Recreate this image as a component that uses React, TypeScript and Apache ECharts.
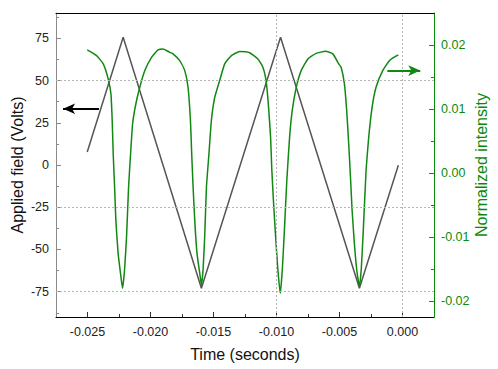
import React, { useEffect, useRef } from "react";
import * as echarts from "echarts";

// Applied field (gray triangle wave, left axis)
const fieldTime = [-0.02502, -0.02217, -0.01596, -0.00968, -0.00342, -0.00033];
const fieldVolts = [7.7, 75.6, -73, 75.6, -73, -0.2];

// Normalized intensity (green, right axis)
const greenTime = [
  -0.02502, -0.02428, -0.02375, -0.02336, -0.02314, -0.02304, -0.02296, -0.02285, -0.02275, -0.02257,
  -0.02238, -0.02222, -0.02206, -0.0219, -0.02174, -0.02158, -0.02142, -0.02116, -0.02085, -0.02045,
  -0.01992, -0.0194, -0.019, -0.01847, -0.01821, -0.01768, -0.01728, -0.01702, -0.01683, -0.01673,
  -0.01662, -0.01649, -0.01631, -0.01609, -0.01596, -0.01583, -0.0157, -0.01556, -0.01536, -0.01517,
  -0.0149, -0.01451, -0.01411, -0.01358, -0.01292, -0.01213, -0.01148, -0.01108, -0.01081, -0.01063,
  -0.01047, -0.01037, -0.01023, -0.01007, -0.00989, -0.0097, -0.00954, -0.00936, -0.00918, -0.00896,
  -0.00875, -0.00843, -0.00804, -0.00751, -0.00685, -0.00611, -0.00553, -0.00506, -0.00487, -0.00461,
  -0.00443, -0.00427, -0.00413, -0.004, -0.00382, -0.00363, -0.00342, -0.00326, -0.0031, -0.00289,
  -0.00268, -0.00241, -0.0021, -0.00157, -0.00099, -0.00033,
];
const greenIntensity = [
  0.01923, 0.01834, 0.01705, 0.01471, 0.01237, 0.00821, 0.00302, -0.00218, -0.00737, -0.01256,
  -0.01568, -0.01802, -0.01516, -0.00997, -0.00218, 0.00302, 0.0077, 0.01082, 0.0134, 0.016,
  0.01808, 0.01923, 0.01939, 0.01886, 0.01861, 0.01756, 0.016, 0.0134, 0.00821, 0.00302,
  -0.00218, -0.00737, -0.01256, -0.01568, -0.0175, -0.01516, -0.00997, -0.00218, 0.00302, 0.00821,
  0.01184, 0.01445, 0.01705, 0.01834, 0.01897, 0.0188, 0.01783, 0.01652, 0.01418, 0.01029,
  0.00561, 0.00042, -0.00477, -0.00997, -0.01516, -0.01879, -0.01516, -0.00842, -0.00114, 0.00561,
  0.00977, 0.0134, 0.016, 0.01783, 0.0187, 0.01901, 0.01861, 0.01705, 0.01652, 0.01393,
  0.00977, 0.00458, -0.00062, -0.00581, -0.011, -0.01516, -0.01777, -0.01465, -0.00842, 0.00042,
  0.00561, 0.01029, 0.0134, 0.016, 0.01767, 0.01845,
];

// Axis ticks / labels
const xLabelValues = [-0.025, -0.02, -0.015, -0.01, -0.005, 0];
const xMinorTicks = [-0.0225, -0.0175, -0.0125, -0.0075, -0.0025];
const leftLabelValues = [-75, -50, -25, 0, 25, 50, 75];
const leftMinorTicks = [-87.5, -62.5, -37.5, -12.5, 12.5, 37.5, 62.5, 87.5];
const rightLabelValues = [-0.02, -0.01, 0, 0.01, 0.02];
const rightMinorTicks = [-0.015, -0.005, 0.005, 0.015];

// Reference grid lines
const hGridVolts = [50, -25, -75];
const vGridTime = [-0.005, 0];

// Arrow annotations (data coordinates)
const leftArrow = { from: [-0.02409, 33.3], to: [-0.02694, 33.3] };
const rightArrow = { from: [-0.0012, 0.016], to: [0.00141, 0.016] };

const FONT = "'Liberation Sans', Arial, sans-serif";
const GREEN = "#118811";
const AXIS_GREEN = "#0a8a0a";

export default function App() {
  const ref = useRef<HTMLDivElement>(null);
  useEffect(() => {
    if (!ref.current) return;
    const chart = echarts.init(ref.current, null, { renderer: "svg" });
    const xMin = -0.0275;
    const xMax = 0.0025;
    const hidden = { show: false };
    const hiddenLine = { show: false, onZero: false };
    chart.setOption({
      animation: false,
      textStyle: { fontFamily: FONT },
      grid: { left: 56, right: 64, top: 13, bottom: 52, containLabel: false, outerBoundsMode: "none" },
      xAxis: [
        {
          type: "value",
          min: xMin,
          max: xMax,
          position: "bottom",
          name: "Time (seconds)",
          nameLocation: "middle",
          nameGap: 29,
          nameMoveOverlap: false,
          nameTextStyle: { fontSize: 16, color: "#111", fontFamily: FONT },
          axisLine: { show: true, onZero: false, lineStyle: { color: "#000", width: 1 } },
          axisTick: { show: true, inside: true, length: 5, customValues: xLabelValues, lineStyle: { color: "#333" } },
          axisLabel: {
            show: true,
            customValues: xLabelValues,
            margin: 8,
            fontSize: 12.5,
            color: "#222",
            fontFamily: FONT,
            formatter: (v: number) => v.toFixed(3),
          },
          splitLine: hidden,
        },
        {
          type: "value",
          min: xMin,
          max: xMax,
          position: "bottom",
          axisLine: hiddenLine,
          axisTick: { show: true, inside: true, length: 3, customValues: xMinorTicks, lineStyle: { color: "#333" } },
          axisLabel: hidden,
          splitLine: hidden,
        },
        {
          type: "value",
          min: xMin,
          max: xMax,
          position: "top",
          axisLine: { show: true, onZero: false, lineStyle: { color: "#000", width: 1 } },
          axisTick: hidden,
          axisLabel: hidden,
          splitLine: hidden,
        },
      ],
      yAxis: [
        {
          type: "value",
          min: -90,
          max: 90,
          position: "left",
          name: "Applied field (Volts)",
          nameLocation: "middle",
          nameGap: 31,
          nameMoveOverlap: false,
          nameTextStyle: { fontSize: 16, color: "#111", fontFamily: FONT },
          axisLine: { show: true, onZero: false, lineStyle: { color: "#8a8a8a", width: 1 } },
          axisTick: { show: true, inside: true, length: 5, customValues: leftLabelValues, lineStyle: { color: "#8a8a8a" } },
          axisLabel: { show: true, customValues: leftLabelValues, margin: 7, fontSize: 12.5, color: "#222", fontFamily: FONT },
          splitLine: hidden,
        },
        {
          type: "value",
          min: -0.0225,
          max: 0.025,
          position: "right",
          name: "Normalized intensity",
          nameLocation: "middle",
          nameGap: 39,
          nameRotate: 90,
          nameMoveOverlap: false,
          nameTextStyle: { fontSize: 16, color: AXIS_GREEN, fontFamily: FONT },
          axisLine: { show: true, onZero: false, lineStyle: { color: AXIS_GREEN, width: 1 } },
          axisTick: { show: true, inside: true, length: 5, customValues: rightLabelValues, lineStyle: { color: AXIS_GREEN } },
          axisLabel: {
            show: true,
            customValues: rightLabelValues,
            margin: 7,
            fontSize: 12.5,
            color: AXIS_GREEN,
            fontFamily: FONT,
            formatter: (v: number) => v.toFixed(2),
          },
          splitLine: hidden,
        },
        {
          type: "value",
          min: -90,
          max: 90,
          position: "left",
          axisLine: hiddenLine,
          axisTick: { show: true, inside: true, length: 3, customValues: leftMinorTicks, lineStyle: { color: "#8a8a8a" } },
          axisLabel: hidden,
          splitLine: hidden,
        },
        {
          type: "value",
          min: -0.0225,
          max: 0.025,
          position: "right",
          axisLine: hiddenLine,
          axisTick: { show: true, inside: true, length: 3, customValues: rightMinorTicks, lineStyle: { color: AXIS_GREEN } },
          axisLabel: hidden,
          splitLine: hidden,
        },
      ],
      series: [
        {
          type: "line",
          name: "Applied field",
          xAxisIndex: 0,
          yAxisIndex: 0,
          data: fieldTime.map((t, i) => [t, fieldVolts[i]]),
          showSymbol: false,
          lineStyle: { color: "#555", width: 1.5 },
          z: 3,
          markLine: {
            silent: true,
            symbol: "none",
            label: { show: false },
            lineStyle: { color: "#b5b5b5", type: [2, 2], width: 1 },
            emphasis: { disabled: true },
            data: [
              ...hGridVolts.map((v) => ({ yAxis: v })),
              ...vGridTime.map((v) => ({ xAxis: v })),
              [
                { coord: leftArrow.from, symbol: "none", lineStyle: { color: "#000", type: "solid", width: 2 } },
                { coord: leftArrow.to, symbol: "arrow", symbolSize: [8, 12] },
              ],
            ],
          },
        },
        {
          type: "line",
          name: "Normalized intensity",
          xAxisIndex: 0,
          yAxisIndex: 1,
          data: greenTime.map((t, i) => [t, greenIntensity[i]]),
          showSymbol: false,
          smooth: 0.15,
          lineStyle: { color: GREEN, width: 1.5 },
          z: 4,
          markLine: {
            silent: true,
            symbol: "none",
            label: { show: false },
            emphasis: { disabled: true },
            data: [
              [
                { coord: rightArrow.from, symbol: "none", lineStyle: { color: GREEN, type: "solid", width: 2 } },
                { coord: rightArrow.to, symbol: "arrow", symbolSize: [8, 12] },
              ],
            ],
          },
        },
      ],
    });
    return () => chart.dispose();
  }, []);
  return <div ref={ref} style={{ width: 498, height: 369, position: "absolute", left: 0, top: 0 }} />;
}
